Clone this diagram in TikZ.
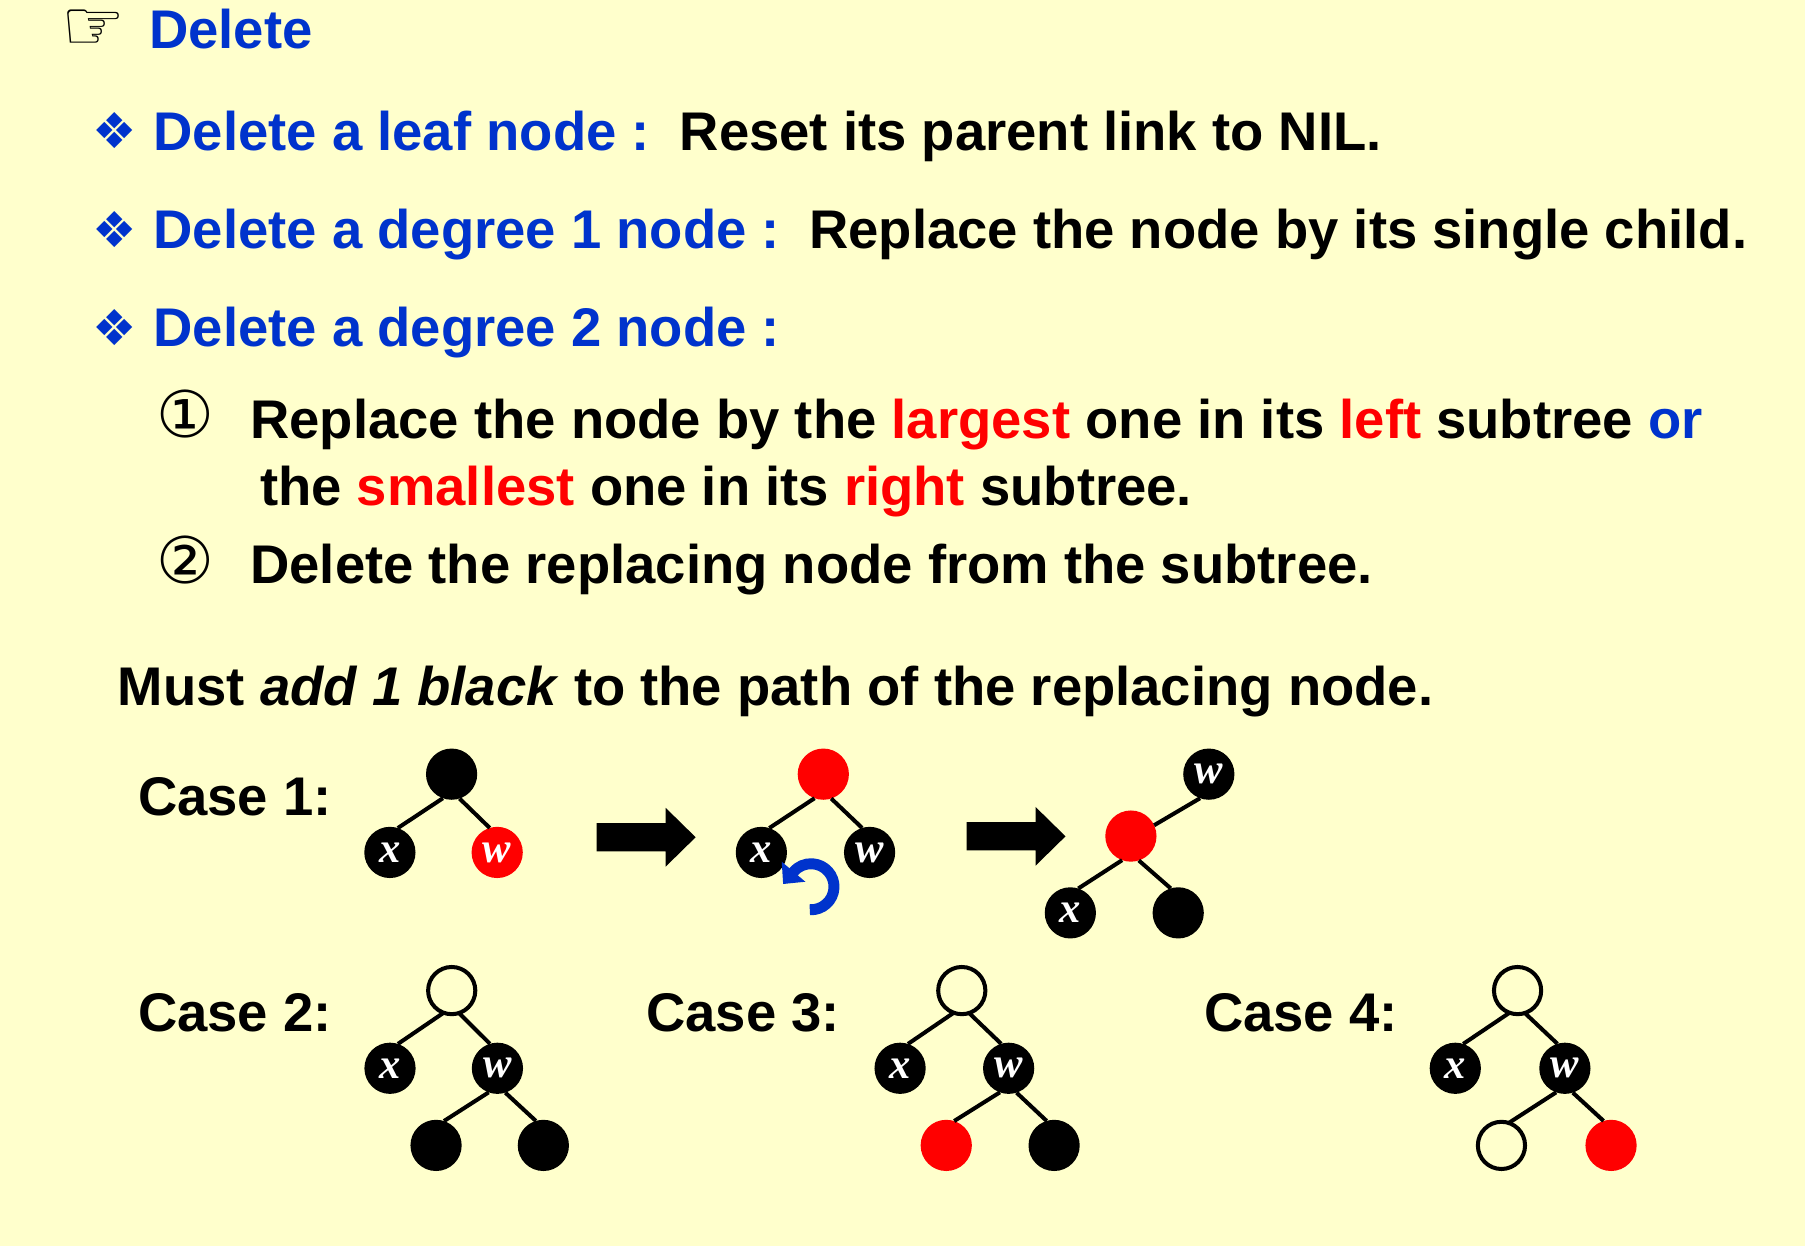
\documentclass[tikz,border=0pt]{standalone}
\usepackage{fontspec}
\setmainfont{Liberation Sans}
\newfontfamily\symfont{DejaVu Sans}
\newfontfamily\serifbi{Liberation Serif}[BoldItalicFont=* Bold Italic]
\usetikzlibrary{arrows.meta}
\definecolor{tblue}{RGB}{0,51,204}
\definecolor{tred}{RGB}{255,0,0}
\definecolor{bg}{RGB}{255,255,204}
\tikzset{
  txt/.style={anchor=base west, inner sep=0pt, outer sep=0pt, font=\fontsize{47.3}{56}\selectfont\bfseries},
  sym/.style={inner sep=0pt, outer sep=0pt, anchor=center},
  tnode/.style={circle, inner sep=0pt, outer sep=0pt, minimum size=44.5pt, text=white,
     font=\serifbi\fontsize{37}{37}\selectfont\bfseries\itshape},
  blk/.style={tnode, fill=black},
  rd/.style={tnode, fill=tred},
  opn/.style={tnode, draw=black, line width=3.5pt, fill=bg, minimum size=41pt},
  edge/.style={line width=3.5pt, black},
}
\newcommand{\rt}[1]{\textcolor{tred}{#1}}
\begin{document}
\begin{tikzpicture}[x=1pt,y=-1pt]
\fill[bg] (0,0) rectangle (1568,1082.4);
\useasboundingbox (0,0) rectangle (1568,1082.4);

% title
\node[sym, font=\symfont\fontsize{62}{62}\selectfont] (hand) at (81.5,26) {☞};
\node[txt, text=tblue, font=\fontsize{47.3}{56}\selectfont\bfseries] (title) at (129.5,42) {Delete};

% bullets
\node[sym, text=tblue, font=\symfont\fontsize{43}{43}\selectfont] (b1) at (99.2,113.7) {❖};
\node[sym, text=tblue, font=\symfont\fontsize{43}{43}\selectfont] (b2) at (99.2,199.2) {❖};
\node[sym, text=tblue, font=\symfont\fontsize{43}{43}\selectfont] (b3) at (99.2,284.6) {❖};
\node[txt, text=tblue] (l1a) at (133.5,130.3) {Delete a leaf node :};
\node[txt] (l1b) at (590.5,130.3) {Reset its parent link to NIL.};
\node[txt, text=tblue] (l2a) at (133.5,215.8) {Delete a degree 1 node :};
\node[txt] (l2b) at (703,215.8) {Replace the node by its single child.};
\node[txt, text=tblue] (l3a) at (133.5,301.2) {Delete a degree 2 node :};

\node[sym, font=\symfont\fontsize{56}{56}\selectfont] (n1) at (161,359.4) {①};
\node[txt] (l4) at (217.5,380.8) {Replace the node by the \rt{largest} one in its \rt{left} subtree \textcolor{tblue}{or}};
\node[txt] (l5) at (226,438.7) {the \rt{smallest} one in its \rt{right} subtree.};
\node[sym, font=\symfont\fontsize{56}{56}\selectfont] (n2) at (161,486.5) {②};
\node[txt] (l6) at (217.5,506.8) {Delete the replacing node from the subtree.};

\node[txt] (l7) at (102.5,612.5) {Must \textit{add 1 black} to the path of the replacing node.};

\node[txt] (case1) at (120,708.3) {Case 1:};
\node[txt] (case2) at (120,896.3) {Case 2:};
\node[txt] (case3) at (561.5,896.3) {Case 3:};
\node[txt] (case4) at (1046,896.3) {Case 4:};

% Case 1, tree A
\node[blk] (a) at (392.3,672.5) {};
\node[blk] (ax) at (338.7,740.5) {x};
\node[rd] (aw) at (431.9,740.5) {w};
\draw[edge] (a.-110) -- (ax.72);
\draw[edge] (a.-72) -- (aw.107);

% block arrows
\foreach \px/\py in {518.3/727.3, 839.6/726.5}{
  \fill[black] (\px,\py-12.3) -- (\px+60,\py-12.3) -- (\px+60,\py-25.5) -- (\px+86,\py)
     -- (\px+60,\py+25.5) -- (\px+60,\py+12.3) -- (\px,\py+12.3) -- cycle;
}

% Case 1, tree B
\node[rd] (b) at (715.2,672.5) {};
\node[blk] (bx) at (661.4,740.5) {x};
\node[blk] (bw) at (755.4,740.5) {w};
\draw[edge] (b.-110) -- (bx.72);
\draw[edge] (b.-72) -- (bw.107);
\coordinate (rotc) at (704.5,770.3);
\draw[tblue, line width=9.5pt, -{Triangle[length=14pt,width=26pt]}]
  (rotc) ++(93:20) arc[start angle=93, end angle=-140, radius=20] -- ++(-8.9,10.5);

% Case 1, tree C
\node[blk] (cw) at (1050.1,672.5) {w};
\node[rd] (cr) at (982.4,726.3) {};
\node[blk] (cx) at (929.8,793) {x};
\node[blk] (cl) at (1023.5,793) {};
\draw[edge] (cr.25) -- (cw.-110);
\draw[edge] (cr.-110) -- (cx.72);
\draw[edge] (cr.-72) -- (cl.107);

% Case 2
\node[opn] (p2) at (392.4,860.5) {};
\node[blk] (p2x) at (338.8,928) {x};
\node[blk] (p2w) at (432.1,928) {w};
\node[blk] (p2l) at (378.8,995) {};
\node[blk] (p2r) at (472,995) {};
\draw[edge] (p2.-110) -- (p2x.72);
\draw[edge] (p2.-72) -- (p2w.107);
\draw[edge] (p2w.-110) -- (p2l.72);
\draw[edge] (p2w.-72) -- (p2r.107);

% Case 3
\node[opn] (p3) at (835.5,860.5) {};
\node[blk] (p3x) at (781.9,928) {x};
\node[blk] (p3w) at (876.2,928) {w};
\node[rd] (p3l) at (822,995) {};
\node[blk] (p3r) at (915.7,995) {};
\draw[edge] (p3.-110) -- (p3x.72);
\draw[edge] (p3.-72) -- (p3w.107);
\draw[edge] (p3w.-110) -- (p3l.72);
\draw[edge] (p3w.-72) -- (p3r.107);

% Case 4
\node[opn] (p4) at (1318.3,860.5) {};
\node[blk] (p4x) at (1264.2,928) {x};
\node[blk] (p4w) at (1359.4,928) {w};
\node[opn] (p4l) at (1304.3,995) {};
\node[rd] (p4r) at (1399.5,995) {};
\draw[edge] (p4.-110) -- (p4x.72);
\draw[edge] (p4.-72) -- (p4w.107);
\draw[edge] (p4w.-110) -- (p4l.72);
\draw[edge] (p4w.-72) -- (p4r.107);
\end{tikzpicture}
\end{document}
